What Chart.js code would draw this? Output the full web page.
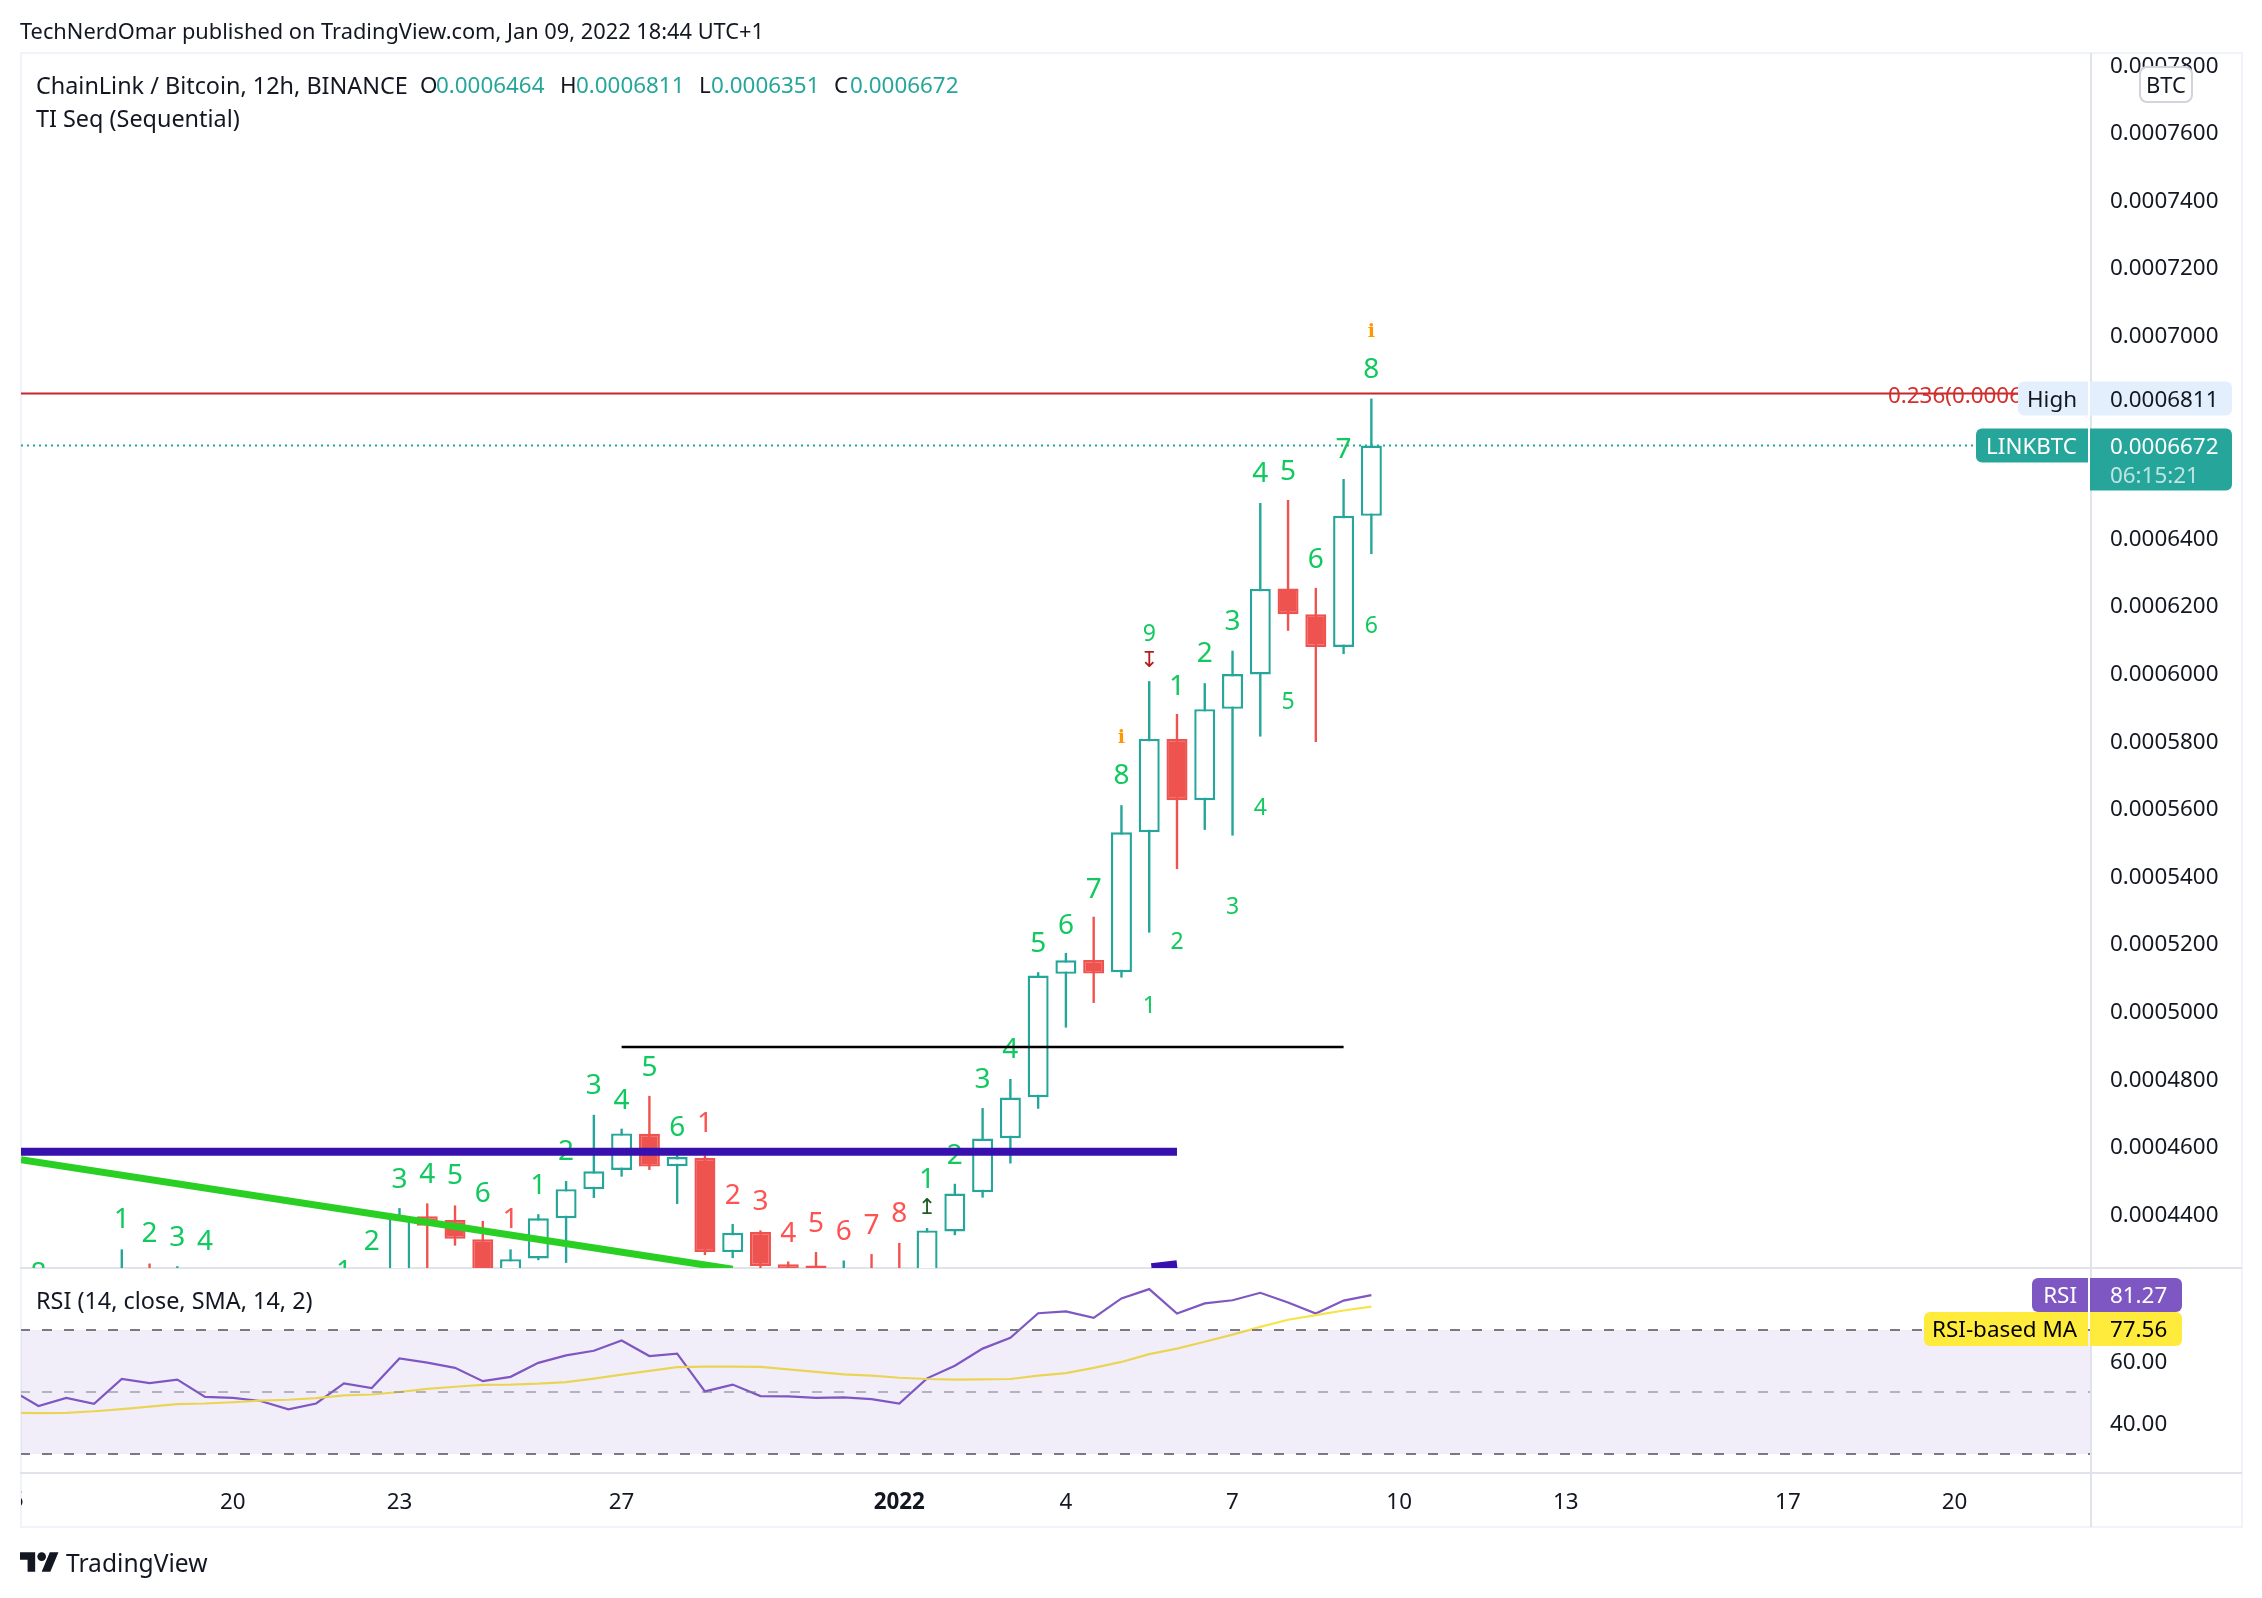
<!DOCTYPE html>
<html>
<head>
<meta charset="utf-8">
<title>LINKBTC</title>
<script src="https://cdn.jsdelivr.net/npm/chart.js@4"></script>
<style>
    html, body { margin: 0; padding: 0; background: #fff; }
    body { width: 2262px; height: 1598px; position: relative; overflow: hidden; font-family: "Noto Sans", sans-serif; color: #131722; }
    canvas { position: absolute; left: 0; top: 0; }
    .line { position: absolute; background: #e0e3eb; }
    .edge { position: absolute; background: #f0f3fa; }
    .txt { position: absolute; white-space: nowrap; font-size: 23.4px; line-height: 30px; }
    .val { color: #26a69a; font-size: 22.4px; }
    .sym { font-size: 22.4px; }
    #btc { position: absolute; left: 2139px; top: 66px; width: 50px; height: 33px; border: 2px solid #d1d4dc; border-radius: 8px; background: #fff; text-align: center; font-size: 22px; line-height: 33px; }
</style>
</head>
<body>
<div class="edge" style="left:20px;top:52px;width:2223px;height:2px"></div>
<div class="edge" style="left:20px;top:52px;width:2px;height:1476px"></div>
<div class="edge" style="left:2241px;top:52px;width:2px;height:1476px"></div>
<div class="edge" style="left:20px;top:1526px;width:2223px;height:2px"></div>
<div class="line" style="left:20px;top:1267px;width:2222px;height:2px"></div>
<div class="line" style="left:20px;top:1472px;width:2222px;height:2px"></div>
<div class="line" style="left:2090px;top:53px;width:2px;height:1474px"></div>

<canvas id="mainChart" width="2262" height="1598"></canvas>
<canvas id="rsiChart" width="2262" height="1598"></canvas>

<div class="txt" style="left:20px;top:16px;font-size:21.8px">TechNerdOmar published on TradingView.com, Jan 09, 2022 18:44 UTC+1</div>
<div class="txt" style="left:36px;top:70px">ChainLink / Bitcoin, 12h, BINANCE</div>
<div class="txt sym" style="left:420px;top:70px">O</div><div class="txt val" style="left:436px;top:70px">0.0006464</div>
<div class="txt sym" style="left:560px;top:70px">H</div><div class="txt val" style="left:576px;top:70px">0.0006811</div>
<div class="txt sym" style="left:699px;top:70px">L</div><div class="txt val" style="left:711px;top:70px">0.0006351</div>
<div class="txt sym" style="left:834px;top:70px">C</div><div class="txt val" style="left:850px;top:70px">0.0006672</div>
<div class="txt" style="left:36px;top:103px">TI Seq (Sequential)</div>
<div class="txt" style="left:36px;top:1285px">RSI (14, close, SMA, 14, 2)</div>
<div id="btc">BTC</div>
<svg style="position:absolute;left:20px;top:1552px" width="39" height="20" viewBox="0 4 36 18">
    <path fill="#131722" d="M14 22H7V11H0V4h14v18zM28 22h-8l7.5-18h8L28 22z"></path><circle fill="#131722" cx="20" cy="8" r="4"></circle>
</svg>
<div class="txt" style="left:66px;top:1548px;font-size:24.6px">TradingView</div>

<script>
// candles, 12h each, index 0 is the leftmost one. The first ones sit below the pane so those are guesses
const candleOpen = [0.000400, 0.000405, 0.000410, 0.000412, 0.000420, 0.000412, 0.000418, 0.000408, 0.000402, 0.000396,
    0.000390, 0.000398, 0.000412, 0.0004207, 0.0004392, 0.0004381, 0.0004324, 0.0004217, 0.0004267, 0.0004386,
    0.0004472, 0.0004529, 0.0004636, 0.000454, 0.0004565, 0.0004286, 0.0004345, 0.000425, 0.0004246, 0.000417,
    0.0004217, 0.0004207, 0.000415, 0.0004347, 0.0004463, 0.0004623, 0.0004744, 0.0005109, 0.000515, 0.0005114,
    0.0005528, 0.0005804, 0.0005623, 0.0005893, 0.0005995, 0.0006249, 0.0006173, 0.0006076, 0.0006464];
const candleHigh = [0.000410, 0.000415, 0.000418, 0.0004294, 0.0004252, 0.0004244, 0.000422, 0.000415, 0.000408, 0.000400,
    0.000400, 0.000416, 0.000422, 0.0004416, 0.000443, 0.0004424, 0.0004378, 0.0004294, 0.0004398, 0.0004496,
    0.0004692, 0.0004651, 0.0004748, 0.0004577, 0.0004572, 0.0004369, 0.000435, 0.0004258, 0.0004286, 0.0004261,
    0.000428, 0.0004313, 0.0004357, 0.0004488, 0.0004712, 0.0004798, 0.0005114, 0.0005171, 0.0005278, 0.0005608,
    0.0005975, 0.0005878, 0.0005969, 0.0006065, 0.0006502, 0.0006511, 0.0006251, 0.0006573, 0.0006811];
const candleLow = [0.000395, 0.000400, 0.000404, 0.000408, 0.000408, 0.000408, 0.000405, 0.000398, 0.000392, 0.000385,
    0.000386, 0.000395, 0.000405, 0.000418, 0.000420, 0.0004305, 0.000418, 0.000418, 0.0004262, 0.0004254,
    0.0004446, 0.0004509, 0.0004529, 0.0004428, 0.0004277, 0.0004268, 0.0004235, 0.000415, 0.000415, 0.000415,
    0.000414, 0.000410, 0.000412, 0.0004336, 0.0004447, 0.0004548, 0.000471, 0.000495, 0.0005023, 0.0005098,
    0.0005231, 0.0005419, 0.0005535, 0.0005518, 0.0005811, 0.0006124, 0.0005795, 0.0006055, 0.0006351];
const candleClose = [0.000405, 0.000410, 0.000412, 0.000420, 0.000412, 0.000418, 0.000408, 0.000402, 0.000396, 0.000390,
    0.000398, 0.000412, 0.000418, 0.0004392, 0.0004364, 0.0004325, 0.0004217, 0.0004265, 0.0004386, 0.0004472,
    0.0004525, 0.0004637, 0.0004539, 0.0004567, 0.0004286, 0.0004343, 0.0004245, 0.000421, 0.000421, 0.000421,
    0.000417, 0.000415, 0.000435, 0.0004459, 0.0004622, 0.0004743, 0.0005104, 0.0005149, 0.000511, 0.0005528,
    0.0005804, 0.0005623, 0.0005892, 0.0005996, 0.0006248, 0.0006173, 0.0006076, 0.0006464, 0.0006672];

// rsi values, first one belongs to the candle just left of the pane
const rsiValues = [50.7, 45.5, 48.1, 46.2, 54.2, 52.9, 54.0, 48.4, 48.1, 47.1, 44.4, 46.3, 52.8, 51.3, 60.8, 59.5, 57.8,
    53.5, 54.9, 59.4, 61.8, 63.3, 66.6, 61.6, 62.4, 50.2, 52.4, 48.7, 48.6, 48.1, 48.3, 47.7, 46.3, 54.4, 58.5, 64.0,
    67.5, 75.4, 76.0, 73.9, 80.2, 83.2, 75.3, 78.6, 79.6, 82.0, 78.9, 75.3, 79.5, 81.27];
const rsiMaValues = [43.3, 43.2, 43.3, 43.8, 44.5, 45.3, 46.1, 46.3, 46.7, 47.2, 47.5, 48.0, 48.9, 49.2, 50.0, 51.0, 51.7,
    52.3, 52.4, 52.7, 53.2, 54.3, 55.6, 56.8, 58.0, 58.2, 58.2, 58.1, 57.3, 56.5, 55.7, 55.3, 54.6, 54.2, 54.0, 54.1,
    54.2, 55.3, 56.1, 57.8, 59.7, 62.2, 64.0, 66.2, 68.5, 71.0, 73.3, 74.8, 76.3, 77.56];

// ticks
const priceTicks = [0.00078, 0.00076, 0.00074, 0.00072, 0.0007, 0.00068, 0.00066, 0.00064, 0.00062, 0.0006, 0.00058,
    0.00056, 0.00054, 0.00052, 0.0005, 0.00048, 0.00046, 0.00044];
const rsiTicks = [60, 40];
const dateTickIndex = [7, 13, 21, 31, 37, 43, 49, 55, 63, 69];
const dateTickLabels = ['20', '23', '27', '2022', '4', '7', '10', '13', '17', '20'];

// sequential counts: candle index, price, text
const bullCountIndex = [48, 47, 46, 45, 44, 43, 42, 41, 39, 38, 37, 36, 35, 34, 33, 32, 23, 22, 21, 20, 19, 18, 16, 15, 14, 13, 12, 11, 6, 5, 4, 3, 0];
const bullCountPrice = [0.0006902, 0.0006664, 0.0006338, 0.00066, 0.0006594, 0.0006157, 0.0006061, 0.0005965, 0.0005699,
    0.0005364, 0.0005257, 0.0005203, 0.0004889, 0.00048, 0.0004577, 0.0004505, 0.0004658, 0.0004835, 0.0004739, 0.0004782,
    0.0004589, 0.0004487, 0.0004463, 0.0004516, 0.0004521, 0.0004505, 0.0004321, 0.0004232, 0.0004321, 0.0004333, 0.0004344,
    0.0004388, 0.0004227];
const bullCountText = ['8', '7', '6', '5', '4', '3', '2', '1', '8', '7', '6', '5', '4', '3', '2', '1', '6', '5', '4', '3',
    '2', '1', '6', '5', '4', '3', '2', '1', '4', '3', '2', '1', '8'];
const bearCountIndex = [31, 30, 29, 28, 27, 26, 25, 24, 17];
const bearCountPrice = [0.0004404, 0.0004369, 0.0004351, 0.0004376, 0.0004344, 0.000444, 0.0004457, 0.0004671, 0.0004386];
const bearCountText = ['8', '7', '6', '5', '4', '3', '2', '1', '1'];
const smallCountIndex = [48, 45, 44, 43, 41, 40, 40];
const smallCountPrice = [0.0006143, 0.0005919, 0.0005604, 0.000531, 0.0005208, 0.0005019, 0.000612];
const smallCountText = ['6', '5', '4', '3', '2', '1', '9'];
const infoIndex = [48, 39];
const infoPrice = [0.0007013, 0.0005812];

// drawings
const trendLineIndex = [-0.63, 25];
const trendLinePrice = [0.0004559, 0.0004235];
const supportPrice = 0.0004583;
const supportEndIndex = 41;
const stubIndex = [40.08, 41];
const stubPrice = [0.0004241, 0.000425];
const resistancePrice = 0.0004893;
const resistanceIndex = [21, 47];
const fibPrice = 0.0006826;
const lastPrice = 0.0006672;
const highPrice = 0.0006811;

const xMin = -0.63;
const xMax = 73.88;
const axisWidth = 152;
const fontName = '"Noto Sans", sans-serif';

const upColor = '#26a69a';
const downColor = '#ef5350';
const countGreen = '#12c95f';
const countRed = '#ff5252';

function seg(x1, y1, x2, y2) {
    return [{ x: x1, y: y1 }, { x: x2, y: y2 }];
}

function lineSet(data, color, width, dash) {
    return {
        type: 'line',
        data: data,
        borderColor: color,
        borderWidth: width,
        borderDash: dash || [],
        pointRadius: 0,
        tension: 0,
        borderCapStyle: 'butt',
    };
}

// pill with separate left and right radius
function pill(ctx, x, y, w, h, color, radii) {
    ctx.fillStyle = color;
    ctx.beginPath();
    ctx.roundRect(x, y, w, h, radii);
    ctx.fill();
}

// the +2 puts the digits in the middle, canvas middle sits a bit high with this font
function label(ctx, text, x, y, color, font, align) {
    ctx.fillStyle = color;
    ctx.font = font;
    ctx.textAlign = align || 'left';
    ctx.textBaseline = 'middle';
    ctx.fillText(text, x, y + 2);
}

// the counts go between the candles and the drawings
const seqPlugin = {
    id: 'seqLabels',
    afterDatasetDraw(chart, args) {
        if (chart.data.datasets[args.index].label !== 'bodies') {
            return;
        }
        const ctx = chart.ctx;
        const xs = chart.scales.x;
        const ys = chart.scales.y;
        const area = chart.chartArea;
        ctx.save();
        ctx.beginPath();
        ctx.rect(area.left, area.top, area.right - area.left, area.bottom - area.top);
        ctx.clip();
        const drawSet = (index, price, text, color, font) => {
            index.forEach((pos, n) => {
                label(ctx, text[n], xs.getPixelForValue(pos), ys.getPixelForValue(price[n]), color, font, 'center');
            });
        };
        drawSet(bullCountIndex, bullCountPrice, bullCountText, countGreen, '28px ' + fontName);
        drawSet(bearCountIndex, bearCountPrice, bearCountText, countRed, '28px ' + fontName);
        drawSet(smallCountIndex, smallCountPrice, smallCountText, countGreen, '23px ' + fontName);
        drawSet(infoIndex, infoPrice, ['i', 'i'], '#ff9800', 'bold 19px "DejaVu Serif"');
        drawSet([40], [0.0006041], ['\u21a7'], '#b71c1c', '22px "DejaVu Sans"');
        drawSet([32], [0.0004422], ['\u21a5'], '#1b5e20', '22px "DejaVu Sans"');
        ctx.restore();
    },
};

const mainPills = {
    id: 'mainPills',
    afterDraw(chart) {
        const ctx = chart.ctx;
        const ys = chart.scales.y;
        const font = '22.4px ' + fontName;
        const fibY = ys.getPixelForValue(fibPrice);
        label(ctx, '0.236(0.0006826)', 1888, fibY + 1, '#d32f2f', font);

        const highY = ys.getPixelForValue(highPrice);
        pill(ctx, 2018, highY - 17, 70, 34, '#e3effd', [6, 0, 0, 6]);
        pill(ctx, 2090, highY - 17, 142, 34, '#e3effd', [0, 6, 6, 0]);
        label(ctx, 'High', 2077, highY, '#131722', font, 'right');
        label(ctx, highPrice.toFixed(7), 2110, highY, '#131722', font);

        const lastY = ys.getPixelForValue(lastPrice);
        pill(ctx, 1976, lastY - 17, 112, 34, upColor, [6, 0, 0, 6]);
        pill(ctx, 2090, lastY - 17, 142, 62, upColor, [0, 6, 6, 0]);
        label(ctx, 'LINKBTC', 2077, lastY, '#ffffff', font, 'right');
        label(ctx, lastPrice.toFixed(7), 2110, lastY, '#ffffff', font);
        label(ctx, '06:15:21', 2110, lastY + 29, 'rgba(255,255,255,0.7)', font);
    },
};

const rsiPills = {
    id: 'rsiPills',
    afterDraw(chart) {
        const ctx = chart.ctx;
        const ys = chart.scales.y;
        const xs = chart.scales.x;
        const area = chart.chartArea;
        const font = '22.4px ' + fontName;
        const rsiLast = rsiValues[rsiValues.length - 1];
        const maLast = rsiMaValues[rsiMaValues.length - 1];
        const rsiY = ys.getPixelForValue(rsiLast);
        const maY = rsiY + 34; // TradingView pushes the labels apart

        pill(ctx, 2032, rsiY - 17, 56, 34, '#7e57c2', [6, 0, 0, 6]);
        pill(ctx, 2090, rsiY - 17, 92, 34, '#7e57c2', [0, 6, 6, 0]);
        label(ctx, 'RSI', 2077, rsiY, '#ffffff', font, 'right');
        label(ctx, rsiLast.toFixed(2), 2110, rsiY, '#ffffff', font);

        pill(ctx, 1924, maY - 17, 164, 34, '#ffeb3b', [6, 0, 0, 6]);
        pill(ctx, 2090, maY - 17, 92, 34, '#ffeb3b', [0, 6, 6, 0]);
        label(ctx, 'RSI-based MA', 2077, maY, '#000000', font, 'right');
        label(ctx, maLast.toFixed(2), 2110, maY, '#000000', font);

        // half of the 16 tick is still showing at the left edge
        ctx.save();
        ctx.beginPath();
        ctx.rect(area.left, area.bottom, 40, 55);
        ctx.clip();
        label(ctx, '16', xs.getPixelForValue(-1), area.bottom + 27, '#131722', font, 'center');
        ctx.restore();
    },
};

// fix the pane sizes so chart.js does not leave room for half a tick label
function fitValueAxis(scale) {
    scale.width = axisWidth;
    scale.paddingTop = 0;
    scale.paddingBottom = 0;
}

const baseIndex = candleOpen.map((value, i) => i);
const candleColors = candleOpen.map((value, i) => (candleClose[i] >= value ? upColor : downColor));

new Chart(document.getElementById('mainChart').getContext('2d'), {
    type: 'bar',
    data: {
        datasets: [
            {
                label: 'wicks',
                data: baseIndex.map((i) => ({ x: i, y: [candleLow[i], candleHigh[i]] })),
                backgroundColor: candleColors,
                borderWidth: 0,
                barThickness: 2.4,
                grouped: false,
                inflateAmount: 0,
                order: 5,
            },
            {
                label: 'bodies',
                data: baseIndex.map((i) => ({ x: i, y: [candleOpen[i], candleClose[i]] })),
                backgroundColor: candleOpen.map((value, i) => (candleClose[i] >= value ? '#ffffff' : downColor)),
                borderColor: candleColors,
                borderWidth: 2.4,
                borderSkipped: false,
                barThickness: 21,
                grouped: false,
                inflateAmount: 0,
                order: 4,
            },
            Object.assign(lineSet(seg(xMin, fibPrice, 73.7, fibPrice), '#c62828', 2), { order: 3 }),
            Object.assign(lineSet(seg(xMin, lastPrice, 69.7, lastPrice), upColor, 2, [2, 4]), { order: 3 }),
            Object.assign(lineSet(seg(trendLineIndex[0], trendLinePrice[0], trendLineIndex[1], trendLinePrice[1]), '#29cf22', 7), { order: 2 }),
            Object.assign(lineSet(seg(xMin, supportPrice, supportEndIndex, supportPrice), '#3810ae', 8), { order: 1 }),
            Object.assign(lineSet(seg(stubIndex[0], stubPrice[0], stubIndex[1], stubPrice[1]), '#3810ae', 8), { order: 1 }),
            Object.assign(lineSet(seg(resistanceIndex[0], resistancePrice, resistanceIndex[1], resistancePrice), '#000000', 2.5), { order: 0 }),
        ],
    },
    options: {
        responsive: false,
        animation: false,
        devicePixelRatio: 1,
        layout: { padding: { left: 21, right: 20, top: 53, bottom: 330 } },
        plugins: { legend: { display: false }, tooltip: { enabled: false } },
        scales: {
            x: { type: 'linear', min: xMin, max: xMax, display: false, offset: false },
            y: {
                position: 'right',
                min: 0.00042388,
                max: 0.00078334,
                grid: { display: false, drawTicks: false },
                border: { display: false },
                afterBuildTicks: (scale) => {
                    scale.ticks = priceTicks.map((v) => ({ value: v }));
                },
                afterFit: fitValueAxis,
                ticks: {
                    autoSkip: false,
                    padding: 20,
                    labelOffset: 2,
                    color: '#131722',
                    font: { family: fontName, size: 22.4 },
                    callback: (value) => value.toFixed(7),
                },
            },
        },
    },
    plugins: [seqPlugin, mainPills],
});

new Chart(document.getElementById('rsiChart').getContext('2d'), {
    type: 'line',
    data: {
        datasets: [
            {
                data: seg(xMin, 70, xMax, 70),
                borderColor: '#787b86',
                borderWidth: 2,
                borderDash: [10, 12],
                borderDashOffset: 1,
                pointRadius: 0,
                backgroundColor: 'rgba(126,87,194,0.1)',
                fill: { target: { value: 30 } },
            },
            Object.assign(lineSet(seg(xMin, 50, xMax, 50), 'rgba(120,123,134,0.5)', 2, [10, 12]), { borderDashOffset: 1 }),
            Object.assign(lineSet(seg(xMin, 30, xMax, 30), '#787b86', 2, [10, 12]), { borderDashOffset: 1 }),
            lineSet(rsiMaValues.map((v, i) => ({ x: i - 1, y: v })), '#f7e34a', 2.2),
            lineSet(rsiValues.map((v, i) => ({ x: i - 1, y: v })), '#7e57c2', 2.2),
        ],
    },
    options: {
        responsive: false,
        animation: false,
        devicePixelRatio: 1,
        layout: { padding: { left: 21, right: 20, top: 1268, bottom: 71 } },
        plugins: { legend: { display: false }, tooltip: { enabled: false } },
        scales: {
            x: {
                type: 'linear',
                min: xMin,
                max: xMax,
                offset: false,
                grid: { display: false, drawTicks: false },
                border: { display: false },
                afterBuildTicks: (scale) => {
                    scale.ticks = dateTickIndex.map((v) => ({ value: v }));
                },
                afterFit: (scale) => {
                    scale.height = 55;
                    scale.paddingLeft = 0;
                    scale.paddingRight = 0;
                },
                ticks: {
                    autoSkip: false,
                    maxRotation: 0,
                    padding: 17,
                    color: '#131722',
                    font: (ctx) => ({
                        family: fontName,
                        size: 22.4,
                        weight: ctx.tick && ctx.tick.value === 31 ? 'bold' : 'normal',
                    }),
                    callback: (value) => dateTickLabels[dateTickIndex.indexOf(value)],
                },
            },
            y: {
                position: 'right',
                min: 24.2,
                max: 90,
                grid: { display: false, drawTicks: false },
                border: { display: false },
                afterBuildTicks: (scale) => {
                    scale.ticks = rsiTicks.map((v) => ({ value: v }));
                },
                afterFit: fitValueAxis,
                ticks: {
                    autoSkip: false,
                    padding: 20,
                    labelOffset: 2,
                    color: '#131722',
                    font: { family: fontName, size: 22.4 },
                    callback: (value) => value.toFixed(2),
                },
            },
        },
    },
    plugins: [rsiPills],
});
</script>
</body>
</html>
